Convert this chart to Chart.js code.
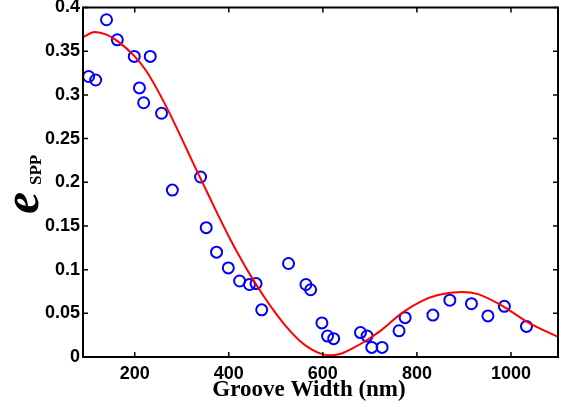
<!DOCTYPE html>
<html lang="en">
  <head>
    <meta charset="UTF-8" />
    <title>Groove Width vs e_SPP</title>
    <script src="https://cdn.jsdelivr.net/npm/chart.js"></script>
    <style>
      body { margin: 0; background: #fff; }
    </style>
  </head>

  <body>
    <canvas id="sppChart" width="570" height="407"></canvas>
    <script>
      // measured points (groove width in nm, e_SPP)
      const grooveWidth = [102, 117, 140, 163, 199, 210, 219, 233, 257, 280, 340, 352, 374, 399, 423, 444, 458, 470, 527, 564, 574, 598, 610, 623, 680, 694, 704, 726, 762, 775, 834, 870, 916, 951, 986, 1033];
      const measured = [0.321, 0.317, 0.386, 0.363, 0.344, 0.308, 0.291, 0.344, 0.279, 0.191, 0.206, 0.148, 0.120, 0.102, 0.087, 0.083, 0.084, 0.054, 0.107, 0.083, 0.077, 0.039, 0.024, 0.021, 0.028, 0.024, 0.011, 0.011, 0.030, 0.045, 0.048, 0.065, 0.061, 0.047, 0.058, 0.035];

      // fitted curve
      const fitWidth = [90, 115, 140, 165, 200, 225, 250, 275, 300, 325, 350, 375, 400, 425, 450, 475, 500, 525, 550, 575, 600, 620, 640, 660, 690, 720, 770, 810, 845, 895, 930, 985, 1035, 1100];
      const fitValue = [0.366, 0.372, 0.369, 0.361, 0.344, 0.327, 0.304, 0.278, 0.250, 0.221, 0.193, 0.165, 0.138, 0.113, 0.090, 0.069, 0.050, 0.033, 0.019, 0.009, 0.003, 0.002, 0.004, 0.009, 0.018, 0.029, 0.051, 0.064, 0.071, 0.0745, 0.072, 0.0575, 0.040, 0.023];

      const xTicks = [200, 400, 600, 800, 1000];
      const yTicks = [0, 0.05, 0.1, 0.15, 0.2, 0.25, 0.3, 0.35, 0.4];

      const tickFont = { family: "Liberation Sans", size: 18, weight: "bold" };

      // frame, inward ticks on all four sides, axis titles
      const framePlugin = {
        id: "frame",
        afterDraw(chart) {
          const ctx = chart.ctx;
          const a = chart.chartArea;
          const xs = chart.scales.x;
          const ys = chart.scales.y;
          ctx.save();
          ctx.strokeStyle = "#000";
          ctx.lineWidth = 2;
          ctx.strokeRect(a.left, a.top, a.right - a.left, a.bottom - a.top);
          ctx.lineWidth = 1.5;
          ctx.beginPath();
          xTicks.forEach((v) => {
            const px = xs.getPixelForValue(v);
            ctx.moveTo(px, a.bottom); ctx.lineTo(px, a.bottom - 5);
            ctx.moveTo(px, a.top); ctx.lineTo(px, a.top + 5);
          });
          yTicks.forEach((v) => {
            const py = ys.getPixelForValue(v);
            ctx.moveTo(a.left, py); ctx.lineTo(a.left + 5, py);
            ctx.moveTo(a.right, py); ctx.lineTo(a.right - 5, py);
          });
          ctx.stroke();

          ctx.fillStyle = "#000";
          ctx.font = "bold 23px 'Liberation Serif'";
          ctx.textAlign = "center";
          ctx.textBaseline = "alphabetic";
          ctx.fillText("Groove Width (nm)", 309, 396);

          ctx.translate(38, 214);
          ctx.rotate(-Math.PI / 2);
          ctx.textAlign = "left";
          ctx.font = "italic bold 50px 'Liberation Serif'";
          ctx.fillText("e", 0, 0);
          ctx.font = "bold 17px 'Liberation Serif'";
          ctx.fillText("SPP", 29, 3);
          ctx.restore();
        },
      };

      const ctx = document.getElementById("sppChart").getContext("2d");
      const chart = new Chart(ctx, {
        type: "scatter",
        data: {
          datasets: [
            {
              label: "fit",
              data: fitWidth.map((w, i) => ({ x: w, y: fitValue[i] })),
              showLine: true,
              borderColor: "#ff0000",
              borderWidth: 2,
              pointRadius: 0,
              cubicInterpolationMode: "monotone",
              fill: false,
            },
            {
              label: "measured",
              data: grooveWidth.map((w, i) => ({ x: w, y: measured[i] })),
              showLine: false,
              borderColor: "#0000ff",
              backgroundColor: "rgba(0,0,0,0)",
              borderWidth: 2,
              pointRadius: 5.5,
              pointStyle: "circle",
            },
          ],
        },
        options: {
          responsive: false,
          animation: false,
          layout: { padding: { left: 0, right: 12, top: 7, bottom: 0 } },
          plugins: {
            legend: { display: false },
            tooltip: { enabled: false },
          },
          scales: {
            x: {
              type: "linear",
              min: 90,
              max: 1100,
              grid: { display: false, drawTicks: false },
              border: { display: false },
              afterBuildTicks: (s) => { s.ticks = xTicks.map((v) => ({ value: v })); },
              afterFit: (s) => {
                s.height = 50;
                s.paddingLeft = 0;
                s.paddingRight = 0;
              },
              ticks: {
                color: "#000",
                font: tickFont,
                padding: 6,
                maxRotation: 0,
                callback: (v) => String(v),
              },
            },
            y: {
              min: 0,
              max: 0.4,
              grid: { display: false, drawTicks: false },
              border: { display: false },
              afterBuildTicks: (s) => { s.ticks = yTicks.map((v) => ({ value: v })); },
              afterFit: (s) => {
                s.width = 83;
                s.paddingTop = 0;
                s.paddingBottom = 0;
              },
              ticks: {
                color: "#000",
                font: tickFont,
                padding: 3,
                autoSkip: false,
                callback: (v) => String(Number(v.toFixed(2))),
              },
            },
          },
        },
        plugins: [framePlugin],
      });
    </script>
  </body>
</html>
